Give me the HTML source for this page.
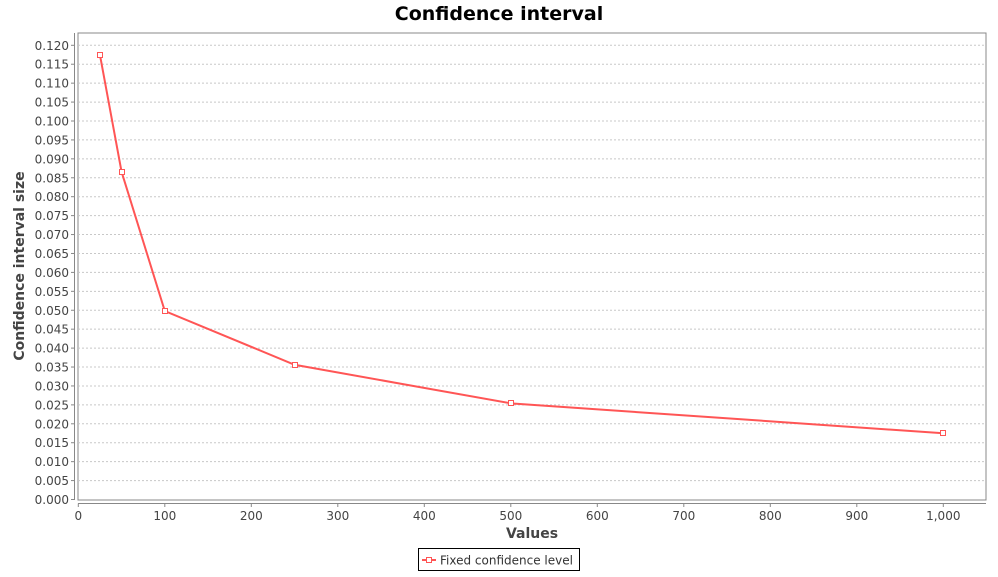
<!DOCTYPE html>
<html><head><meta charset="utf-8"><style>
body{margin:0;background:#fff;font-family:"Liberation Sans","DejaVu Sans",sans-serif;}
svg text{font-family:"DejaVu Sans","Liberation Sans",sans-serif;}
</style></head><body>
<svg id="c" width="998" height="572" xmlns="http://www.w3.org/2000/svg">
<text x="499" y="20" text-anchor="middle" font-size="19" font-weight="bold" fill="#000">Confidence interval</text>
<rect x="78" y="33" width="908" height="467" fill="#fff" stroke="#888"/>
<g id="grid"></g><g id="yax"></g><g id="xax"></g><g id="series"></g>
<text x="532" y="538" text-anchor="middle" font-size="14" font-weight="bold" fill="#444">Values</text>
<text transform="translate(24,266) rotate(-90)" text-anchor="middle" font-size="14" font-weight="bold" fill="#444">Confidence interval size</text>
<g>
<rect x="418.5" y="548.5" width="161" height="22" fill="#fff" stroke="#000"/>
<line x1="422" y1="560" x2="436" y2="560" stroke="#ff5555" stroke-width="2"/>
<rect x="426.5" y="557.5" width="5" height="5" fill="#fff" stroke="#ff5555"/>
<text x="440" y="564.5" font-size="12" fill="#333">Fixed confidence level</text>
</g>
</svg>
<script>
const xValues=[25,50,100,250,500,1000];
const yValues=[0.1175,0.0866,0.0498,0.0356,0.0254,0.0175];
const yTicks=[0,0.005,0.01,0.015,0.02,0.025,0.03,0.035,0.04,0.045,0.05,0.055,0.06,0.065,0.07,0.075,0.08,0.085,0.09,0.095,0.1,0.105,0.11,0.115,0.12];
const xTicks=[0,100,200,300,400,500,600,700,800,900,1000];
const xTickLabels=["0","100","200","300","400","500","600","700","800","900","1,000"];
const NS="http://www.w3.org/2000/svg";
const X=v=>78.3+v*0.865;
const Y=v=>499.5-v*(454.2/0.12);
function mk(p,t,a){const e=document.createElementNS(NS,t);for(const k in a)e.setAttribute(k,a[k]);p.appendChild(e);return e;}
const grid=document.getElementById('grid'),yax=document.getElementById('yax'),xax=document.getElementById('xax'),ser=document.getElementById('series');
mk(yax,'line',{x1:74.5,y1:33,x2:74.5,y2:500,stroke:'#888'});
yTicks.forEach(t=>{const y=Y(t);
 if(t>0){const g=mk(grid,'line',{x1:78,x2:986,y1:y,y2:y,stroke:'#c8c8c8','stroke-dasharray':'2,2'});
 
 }
 mk(yax,'line',{x1:71,x2:74.5,y1:y,y2:y,stroke:'#888'});
 const tx=mk(yax,'text',{x:69,y:y+4.5,'text-anchor':'end','font-size':'12',fill:'#444'});tx.textContent=t.toFixed(3);
 
 });
mk(xax,'line',{x1:78,y1:503.5,x2:986,y2:503.5,stroke:'#888'});
xTicks.forEach((t,i)=>{const x=X(t);
 mk(xax,'line',{x1:x,x2:x,y1:503.5,y2:507,stroke:'#888'});
 const tx=mk(xax,'text',{x:x,y:520,'text-anchor':'middle','font-size':'12',fill:'#444'});tx.textContent=xTickLabels[i];
 
 });
const pl=mk(ser,'polyline',{points:xValues.map((v,i)=>X(v)+','+Y(yValues[i])).join(' '),fill:'none',stroke:'#ff5555','stroke-width':2});


xValues.forEach((v,i)=>{const r=mk(ser,'rect',{x:Math.round(X(v))-2.5,y:Math.round(Y(yValues[i]))-2.5,width:5,height:5,fill:'#fff',stroke:'#ff5555'});
 
 });
</script>
</body></html>
